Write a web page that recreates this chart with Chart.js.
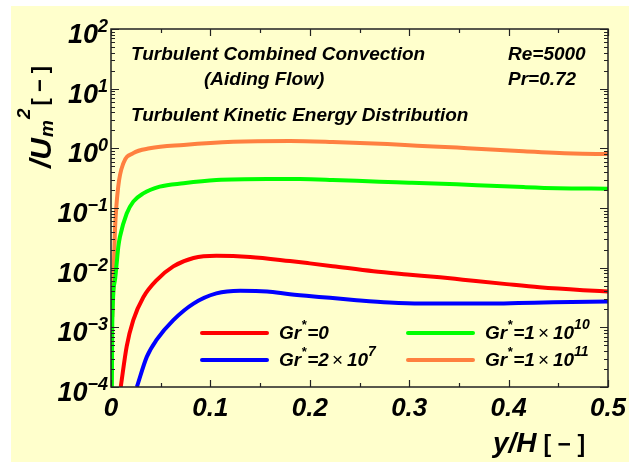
<!DOCTYPE html>
<html>
<head>
<meta charset="utf-8">
<script src="https://cdn.jsdelivr.net/npm/chart.js@4.4.1/dist/chart.umd.min.js"></script>
<style>
  html, body { margin: 0; padding: 0; background: #ffffff; }
  canvas { display: block; }
</style>
</head>
<body>
<canvas id="chart" width="640" height="462"></canvas>
<script>
// Turbulent kinetic energy <k>/Um^2 across the channel half-width y/H

// Gr* = 0
const xGr0 = [0.0098, 0.0158, 0.0224, 0.0325, 0.046, 0.0627, 0.083, 0.106, 0.14, 0.18, 0.2, 0.223, 0.264, 0.298, 0.331, 0.354, 0.398, 0.431, 0.475, 0.5];
const kGr0 = [1.0e-4, 4.8e-4, 1.32e-3, 3.2e-3, 6.2e-3, 0.0105, 0.0145, 0.0158, 0.0151, 0.0129, 0.0118, 0.0106, 0.0087, 0.0077, 0.0069, 0.0063, 0.0053, 0.0047, 0.0042, 0.0040];

// Gr* = 2 x 10^7
const xGr2e7 = [0.026, 0.036, 0.046, 0.0627, 0.083, 0.106, 0.13, 0.157, 0.18, 0.213, 0.247, 0.28, 0.312, 0.38, 0.41, 0.445, 0.5];
const kGr2e7 = [1.0e-4, 3.2e-4, 6.2e-4, 1.32e-3, 2.5e-3, 3.7e-3, 4.1e-3, 4.0e-3, 3.6e-3, 3.2e-3, 2.85e-3, 2.6e-3, 2.5e-3, 2.5e-3, 2.55e-3, 2.63e-3, 2.7e-3];

// Gr* = 1 x 10^10
const xGr1e10 = [0.0009, 0.0013, 0.004, 0.0057, 0.0073, 0.009, 0.0158, 0.0224, 0.0325, 0.049, 0.073, 0.106, 0.157, 0.19, 0.223, 0.27, 0.30, 0.348, 0.382, 0.415, 0.449, 0.5];
const kGr1e10 = [1.0e-4, 1.2e-3, 6.2e-3, 0.0117, 0.022, 0.033, 0.081, 0.128, 0.176, 0.228, 0.26, 0.294, 0.306, 0.306, 0.296, 0.275, 0.266, 0.25, 0.236, 0.224, 0.215, 0.211];

// Gr* = 1 x 10^11
const xGr1e11 = [0.0013, 0.004, 0.0073, 0.0124, 0.0224, 0.039, 0.073, 0.123, 0.18, 0.223, 0.278, 0.308, 0.348, 0.368, 0.415, 0.465, 0.5];
const kGr1e11 = [1.5e-3, 0.043, 0.23, 0.56, 0.83, 1.0, 1.14, 1.29, 1.33, 1.28, 1.18, 1.11, 1.03, 0.98, 0.89, 0.82, 0.80];

const seriesLabels = ['Gr*=0', 'Gr*=2×10^7', 'Gr*=1×10^10', 'Gr*=1×10^11'];
const seriesColors = ['#ff0000', '#0000ff', '#00ff00', '#ff8040'];

// axis tick labels
const xTickValues = [0, 0.1, 0.2, 0.3, 0.4, 0.5];
const xTickLabels = ['0', '0.1', '0.2', '0.3', '0.4', '0.5'];
const yDecadeValues = [1e-4, 1e-3, 1e-2, 1e-1, 1e0, 1e1, 1e2];
const yDecadeExponents = ['\u22124', '\u22123', '\u22122', '\u22121', '0', '1', '2'];

const FACE = '"Liberation Sans", Arial, sans-serif';
const F = (size, style) => `${style || 'bold italic'} ${size}px ${FACE}`;

// draws a run of text pieces [{t, font, dy, gap}] starting at x on baseline y
function runWidth(ctx, segs) {
  let w = 0;
  for (const s of segs) { ctx.font = s.font; w += ctx.measureText(s.t).width + (s.gap || 0); }
  return w;
}
function drawRun(ctx, x, y, segs) {
  let cx = x;
  for (const s of segs) {
    ctx.font = s.font;
    ctx.fillText(s.t, cx, y + (s.dy || 0));
    cx += ctx.measureText(s.t).width + (s.gap || 0);
  }
  return cx;
}

// "Gr*=2×10^7" -> pieces with superscript asterisk / exponent
function legendRun(label) {
  const segs = [];
  const m = label.match(/^Gr\*=(.*)$/);
  segs.push({ t: 'Gr', font: F(19), gap: 0 });
  segs.push({ t: '*', font: F(13), dy: -10, gap: 1 });
  const parts = m[1].split('×');
  if (parts.length === 1) {
    segs.push({ t: '=' + parts[0], font: F(19) });
  } else {
    segs.push({ t: '=' + parts[0], font: F(19), gap: 3 });
    segs.push({ t: '×', font: F(19, 'normal'), gap: 4 });
    const [base, exp] = parts[1].split('^');
    segs.push({ t: base, font: F(19), gap: 0 });
    segs.push({ t: exp, font: F(14), dy: -10 });
  }
  return segs;
}

const decor = {
  id: 'decor',
  beforeDraw(chart) {
    const ctx = chart.ctx;
    ctx.save();
    ctx.fillStyle = '#ffffff';
    ctx.fillRect(0, 0, chart.width, chart.height);
    ctx.fillStyle = '#ffffcc';
    ctx.fillRect(11, 6, 618, 456);
    ctx.restore();
  },
  afterDatasetsDraw(chart) {
    const ctx = chart.ctx;
    const a = chart.chartArea;
    const xs = chart.scales.x, ys = chart.scales.y;
    ctx.save();
    ctx.strokeStyle = '#222222';
    ctx.lineWidth = 1.5;
    ctx.strokeRect(a.left, a.top, a.right - a.left, a.bottom - a.top);
    ctx.lineWidth = 1.2;
    ctx.beginPath();
    // log ticks on left and right
    for (let d = 0; d < yDecadeValues.length; d++) {
      const dec = yDecadeValues[d];
      const py = Math.round(ys.getPixelForValue(dec)) + 0.5;
      ctx.moveTo(a.left, py); ctx.lineTo(a.left + 8, py);
      ctx.moveTo(a.right, py); ctx.lineTo(a.right - 8, py);
      if (d === yDecadeValues.length - 1) break;
      for (let m = 2; m <= 9; m++) {
        const pm = Math.round(ys.getPixelForValue(dec * m)) + 0.5;
        ctx.moveTo(a.left, pm); ctx.lineTo(a.left + 4, pm);
        ctx.moveTo(a.right, pm); ctx.lineTo(a.right - 4, pm);
      }
    }
    // linear ticks on bottom and top
    for (let i = 0; i <= 10; i++) {
      const v = i * 0.05;
      const px = Math.round(xs.getPixelForValue(v)) + 0.5;
      const len = (i % 2 === 0) ? 7 : 4;
      ctx.moveTo(px, a.bottom); ctx.lineTo(px, a.bottom - len);
      ctx.moveTo(px, a.top); ctx.lineTo(px, a.top + len);
    }
    ctx.stroke();
    ctx.restore();
  },
  afterDraw(chart) {
    const ctx = chart.ctx;
    const xs = chart.scales.x, ys = chart.scales.y;
    ctx.save();
    ctx.fillStyle = '#000000';
    ctx.textBaseline = 'alphabetic';
    ctx.textAlign = 'left';

    // y tick labels 10^n
    yDecadeValues.forEach((v, i) => {
      const py = ys.getPixelForValue(v);
      const segs = [
        { t: '10', font: F(27), gap: 0 },
        { t: yDecadeExponents[i], font: F(18), dy: -11 }
      ];
      const w = runWidth(ctx, segs);
      drawRun(ctx, 108 - w, py + 14, segs);
    });

    // x tick labels
    ctx.font = F(26);
    xTickValues.forEach((v, i) => {
      const px = xs.getPixelForValue(v);
      const w = ctx.measureText(xTickLabels[i]).width;
      ctx.fillText(xTickLabels[i], px - w / 2, 416);
    });

    // x axis title
    drawRun(ctx, 493, 452, [
      { t: 'y/H', font: F(28), gap: 7 },
      { t: '[ \u2212 ]', font: F(23, 'bold') }
    ]);

    // y axis title (rotated)
    ctx.save();
    ctx.translate(51, 168);
    ctx.rotate(-Math.PI / 2);
    drawRun(ctx, 0, 0, [
      { t: '/U', font: F(30), gap: 1 },
      { t: 'm', font: F(19), dy: 2, gap: 1 },
      { t: '2', font: F(19), dy: -21, gap: 3 },
      { t: '[ \u2212 ]', font: F(22, 'bold'), dy: -4 }
    ]);
    ctx.restore();

    // annotations inside the frame
    ctx.font = F(19);
    ctx.fillText('Turbulent Combined Convection', 131, 60);
    ctx.fillText('(Aiding Flow)', 204, 85);
    ctx.fillText('Turbulent Kinetic Energy Distribution', 131, 121);
    ctx.fillText('Re=5000', 508, 60);
    ctx.fillText('Pr=0.72', 508, 85);

    // legend, two columns
    const cols = [202, 408];
    const rows = [333, 360];
    const order = [[0, 0, 0], [1, 0, 1], [2, 1, 0], [3, 1, 1]];
    order.forEach(([si, c, r]) => {
      const lx = cols[c], ly = rows[r];
      ctx.strokeStyle = seriesColors[si];
      ctx.lineWidth = 4;
      ctx.lineCap = 'round';
      ctx.beginPath();
      ctx.moveTo(lx, ly); ctx.lineTo(lx + 65, ly);
      ctx.stroke();
      ctx.fillStyle = '#000000';
      drawRun(ctx, lx + 77, ly + 6, legendRun(seriesLabels[si]));
    });
    ctx.restore();
  }
};

const seriesX = [xGr0, xGr2e7, xGr1e10, xGr1e11];
const seriesK = [kGr0, kGr2e7, kGr1e10, kGr1e11];

new Chart(document.getElementById('chart').getContext('2d'), {
  type: 'line',
  data: {
    datasets: seriesX.map((xv, s) => ({
      label: seriesLabels[s],
      data: xv.map((x, i) => ({ x: x, y: seriesK[s][i] })),
      borderColor: seriesColors[s],
      borderWidth: 4,
      pointRadius: 0,
      fill: false,
      cubicInterpolationMode: 'monotone',
      borderJoinStyle: 'round'
    }))
  },
  options: {
    responsive: false,
    animation: false,
    devicePixelRatio: 1,
    layout: { padding: { left: 111, right: 32, top: 29, bottom: 75 } },
    scales: {
      x: { type: 'linear', min: 0, max: 0.5, display: false },
      y: { type: 'logarithmic', min: 1e-4, max: 100, display: false }
    },
    plugins: { legend: { display: false }, tooltip: { enabled: false } }
  },
  plugins: [decor]
});
</script>
</body>
</html>
